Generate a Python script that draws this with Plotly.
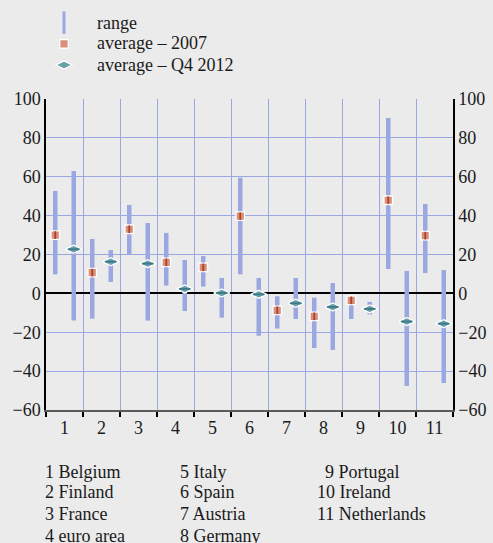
import plotly.graph_objects as go

categories = [1, 2, 3, 4, 5, 6, 7, 8, 9, 10, 11]
tick_labels = ["1", "2", "3", "4", "5", "6", "7", "8", "9", "10", "11"]
country_names = ["1 Belgium", "2 Finland", "3 France", "4 euro area", "5 Italy", "6 Spain",
                 "7 Austria", "8 Germany", "9 Portugal", "10 Ireland", "11 Netherlands"]
legend_labels = ["range", "average \u2013 2007", "average \u2013 Q4 2012"]

range2007_low = [9.8, -13.0, 20.1, 4.0, 3.5, 9.8, -18.1, -28.1, -13.2, 12.6, 10.5]
range2007_high = [52.7, 28.0, 45.5, 31.1, 19.2, 59.5, -1.5, -2.2, -2.0, 90.2, 46.0]
avg2007 = [30.0, 10.7, 33.0, 16.0, 13.4, 39.7, -8.7, -11.8, -3.6, 47.9, 29.7]

range2012_low = [-14.0, 5.9, -14.0, -9.1, -12.5, -21.8, -13.2, -29.1, -10.8, -47.6, -46.1]
range2012_high = [63.0, 22.3, 36.2, 17.2, 7.9, 7.9, 7.9, 5.3, -4.4, 11.5, 12.0]
avgQ42012 = [22.7, 16.3, 15.3, 2.3, 0.2, -0.5, -5.1, -7.0, -8.0, -14.5, -15.6]

y_ticks = [-60, -40, -20, 0, 20, 40, 60, 80, 100]

BG = "#ebebeb"
GRID = "#9ba7e0"
BAR = "#9aa7e0"
SQ = "#d9907b"
SQ_IN = "#b0402c"
DIA = "#6a9fa9"
DIA_IN = "#3b7a86"
TXT = "#1a1a1a"
FONT = "Liberation Serif, Times New Roman, serif"
FS = 18

OFF = 0.25


def seg_xy(xs, lows, highs):
    X, Y = [], []
    for x, lo, hi in zip(xs, lows, highs):
        X += [x, x, None]
        Y += [lo, hi, None]
    return X, Y


x07 = [c - OFF for c in categories]
x12 = [c + OFF for c in categories]

fig = go.Figure()

X, Y = seg_xy(x07, range2007_low, range2007_high)
fig.add_trace(go.Scatter(x=X, y=Y, mode="lines", line=dict(color=BAR, width=4.5),
                         showlegend=False, hoverinfo="skip"))
X, Y = seg_xy(x12, range2012_low, range2012_high)
fig.add_trace(go.Scatter(x=X, y=Y, mode="lines", line=dict(color=BAR, width=4.5),
                         showlegend=False, hoverinfo="skip"))

# legend symbols (labels are drawn as annotations to match the tight line spacing)
fig.add_trace(go.Scatter(x=[None], y=[None], mode="markers", name=" ",
                         marker=dict(symbol="line-ns-open", size=18, color=BAR,
                                     line=dict(color=BAR, width=3))))

fig.add_trace(go.Scatter(x=x07, y=avg2007, mode="markers", name=" ",
                         marker=dict(symbol="square", size=8.5, color=SQ,
                                     line=dict(color="white", width=1.3))))
fig.add_trace(go.Scatter(x=x07, y=avg2007, mode="markers", showlegend=False, hoverinfo="skip",
                         marker=dict(symbol="line-ns-open", size=5.5, color=SQ_IN,
                                     line=dict(color=SQ_IN, width=1.8))))

fig.add_trace(go.Scatter(x=x12, y=avgQ42012, mode="markers", name="  ",
                         marker=dict(symbol="diamond-wide", size=11.5, color=DIA,
                                     line=dict(color="white", width=1.3))))
fig.add_trace(go.Scatter(x=x12, y=avgQ42012, mode="markers", showlegend=False, hoverinfo="skip",
                         marker=dict(symbol="line-ew-open", size=8, color=DIA_IN,
                                     line=dict(color=DIA_IN, width=1.8))))

# right axis carrier
fig.add_trace(go.Scatter(x=[1], y=[0], yaxis="y2", mode="markers",
                         marker=dict(opacity=0), showlegend=False, hoverinfo="skip"))

W, H = 493, 543
L, R, T, B = 46, 40, 99, 133
pw, ph = W - L - R, H - T - B


def px(xp):
    return (xp - L) / pw


def py(yp):
    return (H - B - yp) / ph


boundaries = [c - 0.5 for c in categories] + [categories[-1] + 0.5]
tf = dict(family=FONT, size=FS, color=TXT)

fig.update_layout(
    width=W, height=H,
    margin=dict(l=L, r=R, t=T, b=B, pad=0, autoexpand=False),
    paper_bgcolor=BG, plot_bgcolor=BG,
    font=tf,
    showlegend=True,
    legend=dict(x=px(44), y=py(7), xanchor="left", yanchor="top",
                bgcolor="rgba(0,0,0,0)", borderwidth=0,
                font=dict(family=FONT, size=14, color=TXT),
                itemwidth=30, tracegroupgap=0),
    xaxis=dict(range=[0.5, 11.5], tickmode="array", tickvals=categories, ticktext=tick_labels,
               showgrid=False, zeroline=False, ticks="",
               showline=True, linecolor="#5a5a5a", linewidth=2,
               tickfont=tf,
               minor=dict(tickvals=boundaries, showgrid=True, gridcolor=GRID, gridwidth=1,
                          ticks="outside", ticklen=5, tickcolor="black", tickwidth=1.5),
               fixedrange=True),
    yaxis=dict(range=[-60, 100], tickmode="array", tickvals=y_ticks,
               showgrid=True, gridcolor=GRID, gridwidth=1,
               zeroline=True, zerolinecolor="black", zerolinewidth=2,
               showline=True, linecolor="black", linewidth=1.5, ticks="",
               tickfont=tf, fixedrange=True),
    yaxis2=dict(range=[-60, 100], overlaying="y", side="right",
                tickmode="array", tickvals=y_ticks,
                showgrid=False, zeroline=False, showline=True, linecolor="black", linewidth=1.5,
                ticks="", tickfont=tf, fixedrange=True),
)

for label, yp in zip(legend_labels, [22.7, 43.5, 64.5]):
    fig.add_annotation(text=label, xref="paper", yref="paper", x=px(95), y=py(yp),
                       xanchor="left", yanchor="middle", showarrow=False, font=tf)

positions = [
    (43, 471.5), (43, 492.5), (43, 514), (43, 535.5),
    (178, 471.5), (178, 492.5), (178, 514), (178, 535.5),
    (323, 471.5), (314.5, 492.5), (314.5, 514),
]
for name, (xp, yp) in zip(country_names, positions):
    fig.add_annotation(text=name, xref="paper", yref="paper", x=px(xp), y=py(yp),
                       xanchor="left", yanchor="middle", showarrow=False, font=tf)

fig.write_html("out.html", config={"displayModeBar": False},
               post_script="document.body.style.margin='0';document.body.style.background='#ebebeb';")
